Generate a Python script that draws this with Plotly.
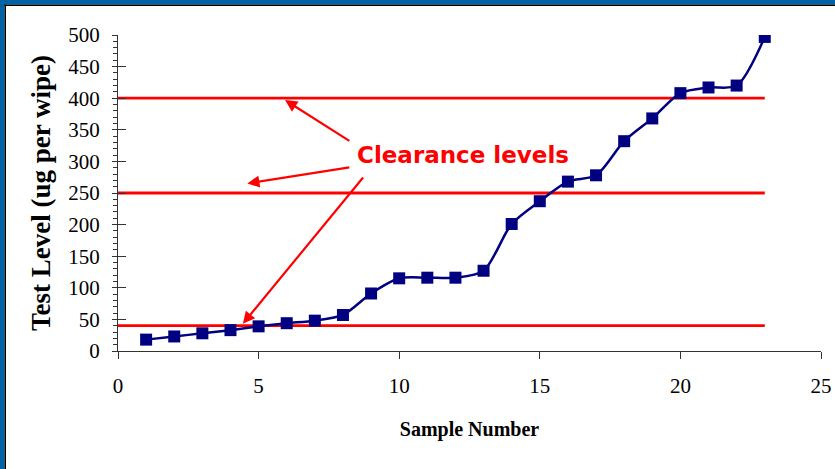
import plotly.graph_objects as go

# ---- data ----
sample_number = list(range(1, 24))
test_level = [18, 23, 28, 33, 39, 44, 48, 57, 91, 115, 116, 116, 127,
              201, 237, 268, 278, 332, 368, 408, 417, 420, 497]
clearance_levels = [40, 250, 400]
clearance_x = [0, 23]
x_ticks = [0, 5, 10, 15, 20, 25]
y_ticks = [0, 50, 100, 150, 200, 250, 300, 350, 400, 450, 500]

label_text = "<b>Clearance levels</b>"
label_pos = (12.27, 310)
# arrows: (head_x, head_y, tail_x, tail_y)
arrows = [(5.94, 397, 8.28, 331),
          (4.60, 265, 8.28, 291),
          (4.44, 43, 8.76, 277)]

NAVY = "#000080"
RED = "#FF0000"
SERIF = "Liberation Serif"

fig = go.Figure()

for lvl in clearance_levels:
    fig.add_trace(go.Scatter(x=clearance_x, y=[lvl, lvl], mode="lines",
                             line=dict(color=RED, width=2.8),
                             showlegend=False, hoverinfo="skip"))

fig.add_trace(go.Scatter(x=sample_number, y=test_level, mode="lines+markers",
                         line=dict(color=NAVY, width=2.5, shape="spline", smoothing=0.8),
                         marker=dict(symbol="square", size=12, color=NAVY),
                         showlegend=False))

annotations = [dict(x=label_pos[0], y=label_pos[1], xref="x", yref="y",
                    text=label_text, showarrow=False,
                    font=dict(family="Comic Sans MS, DejaVu Sans", size=23, color=RED))]
for hx, hy, tx, ty in arrows:
    annotations.append(dict(x=hx, y=hy, ax=tx, ay=ty, xref="x", yref="y",
                            axref="x", ayref="y", text="", showarrow=True,
                            arrowhead=2, arrowsize=1.1, arrowwidth=2.2,
                            arrowcolor=RED, standoff=0, startstandoff=0))

# window frame (blue band with black edge, top and left)
BLUE = "#0063A6"
W, H = 835, 469
L, R, T, B = 118, 14, 35, 118
pw, ph = W - L - R, H - T - B
def px2x(p): return (p - L) / pw
def py2y(p): return 1 - (p - T) / ph
shapes = [
    dict(type="rect", xref="paper", yref="paper", x0=px2x(0), x1=px2x(W), y0=py2y(0), y1=py2y(4.5),
         fillcolor=BLUE, line=dict(width=0), layer="above"),
    dict(type="rect", xref="paper", yref="paper", x0=px2x(0), x1=px2x(4.5), y0=py2y(0), y1=py2y(H),
         fillcolor=BLUE, line=dict(width=0), layer="above"),
    dict(type="rect", xref="paper", yref="paper", x0=px2x(4.5), x1=px2x(W), y0=py2y(4.5), y1=py2y(6),
         fillcolor="black", line=dict(width=0), layer="above"),
    dict(type="rect", xref="paper", yref="paper", x0=px2x(4.5), x1=px2x(6), y0=py2y(4.5), y1=py2y(H),
         fillcolor="black", line=dict(width=0), layer="above"),
]

fig.update_layout(
    width=W, height=H,
    margin=dict(l=L, r=R, t=T, b=B, autoexpand=False),
    paper_bgcolor="white", plot_bgcolor="white",
    font=dict(family=SERIF, color="black"),
    annotations=annotations, shapes=shapes,
    xaxis=dict(range=[0, 25], tickvals=x_ticks, ticks="outside", ticklen=7,
               tickcolor="#333", showline=True, linecolor="#333", linewidth=1,
               showgrid=False, zeroline=False,
               tickfont=dict(size=21, family=SERIF, color="black"),
               ticklabelstandoff=9,
               title=dict(text="<b>Sample Number</b>", font=dict(size=20, family=SERIF), standoff=24)),
    yaxis=dict(range=[0, 500], tickvals=y_ticks, ticks="outside", ticklen=5,
               tickcolor="#333", showline=True, linecolor="#333", linewidth=1,
               showgrid=False, zeroline=False,
               tickfont=dict(size=21, family=SERIF, color="black"),
               ticklabelstandoff=8,
               minor=dict(dtick=10, ticks="outside", ticklen=4, tickcolor="#333"),
               title=dict(text="<b>Test Level (ug per wipe)</b>", font=dict(size=27, family=SERIF), standoff=9)),
    yaxis2=dict(range=[0, 500], overlaying="y", side="left", tickvals=y_ticks,
                ticks="inside", ticklen=8, tickcolor="#333", showticklabels=False,
                showline=False, showgrid=False, zeroline=False),
)
# attach an invisible trace to yaxis2 so its ticks render
fig.add_trace(go.Scatter(x=[None], y=[None], yaxis="y2", showlegend=False, hoverinfo="skip"))

fig.write_html("out.html")
